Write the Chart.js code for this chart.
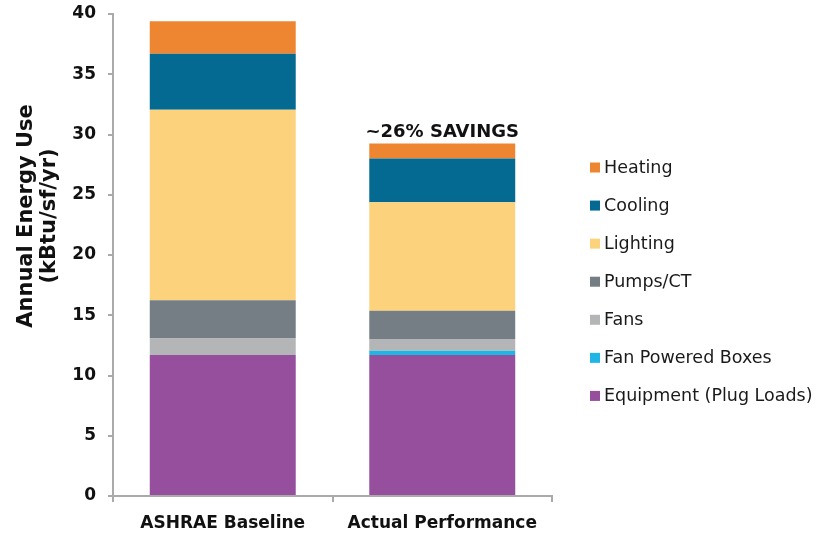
<!DOCTYPE html>
<html><head><meta charset="utf-8">
<script src="https://cdn.jsdelivr.net/npm/chart.js@4.4.1/dist/chart.umd.min.js"></script>
<style>html,body{margin:0;padding:0;background:#fff}#wrap{width:821px;height:533px}</style>
</head><body><div id="wrap"><canvas id="c" width="821" height="533"></canvas></div>
<script>
const categories = ['ASHRAE Baseline', 'Actual Performance'];
const seriesNames = ['Equipment (Plug Loads)', 'Fan Powered Boxes', 'Fans', 'Pumps/CT', 'Lighting', 'Cooling', 'Heating'];
const equipment = [11.7, 11.7];
const fanPoweredBoxes = [0, 0.36];
const fans = [1.37, 0.97];
const pumps = [3.17, 2.35];
const lighting = [15.82, 9.0];
const cooling = [4.65, 3.62];
const heating = [2.68, 1.25];
const yTicks = [0, 5, 10, 15, 20, 25, 30, 35, 40];
const yTitle = ['Annual Energy Use', '(kBtu/sf/yr)'];
const savingsLabel = '~26% SAVINGS';
const seriesColors = ['#954F9D', '#1FB6E6', '#B4B5B6', '#757E84', '#FDD27D', '#046A92', '#EE8631'];

const seriesValues = [equipment, fanPoweredBoxes, fans, pumps, lighting, cooling, heating];
const axisColor = '#aaaaaa';
const FONT = '"DejaVu Sans", sans-serif';

const overlayPlugin = {
  id: 'overlay',
  afterDraw(chart) {
    const ctx = chart.ctx;
    // y-axis title
    ctx.save();
    ctx.fillStyle = '#111';
    ctx.font = 'bold 21px ' + FONT;
    ctx.textAlign = 'center';
    ctx.textBaseline = 'middle';
    const cy = 216;
    [27, 50].forEach((x, i) => {
      ctx.save();
      ctx.translate(x, cy);
      ctx.rotate(-Math.PI / 2);
      ctx.fillText(yTitle[i], 0, 0);
      ctx.restore();
    });
    ctx.restore();

    // savings annotation above top segment of second bar
    const topMeta = chart.getDatasetMeta(chart.data.datasets.length - 1);
    const el = topMeta.data[1];
    ctx.save();
    ctx.fillStyle = '#111';
    ctx.font = 'bold 18px ' + FONT;
    ctx.textAlign = 'center';
    ctx.textBaseline = 'alphabetic';
    ctx.fillText(savingsLabel, el.x, el.y - 7);
    ctx.restore();

    // legend (reverse order, top = last dataset)
    ctx.save();
    ctx.font = '17.5px ' + FONT;
    ctx.textBaseline = 'middle';
    ctx.textAlign = 'left';
    const ds = chart.data.datasets.slice().reverse();
    ds.forEach((d, i) => {
      const yy = 167.5 + i * 38.07;
      ctx.fillStyle = d.backgroundColor;
      ctx.fillRect(590, yy - 5, 10, 10);
      ctx.fillStyle = '#1a1a1a';
      ctx.fillText(d.label, 604, yy + 1);
    });
    ctx.restore();
  }
};

new Chart(document.getElementById('c'), {
  type: 'bar',
  data: {
    labels: categories,
    datasets: seriesNames.map((n, i) => ({
      label: n,
      data: seriesValues[i],
      backgroundColor: seriesColors[i],
      borderWidth: 0,
      barPercentage: 0.665,
      categoryPercentage: 1.0
    }))
  },
  options: {
    responsive: false,
    animation: false,
    devicePixelRatio: 1,
    layout: { padding: { top: 14, right: 269, bottom: 0, left: 0 } },
    plugins: { legend: { display: false }, tooltip: { enabled: false }, title: { display: false } },
    scales: {
      x: {
        stacked: true,
        grid: { display: true, drawOnChartArea: false, drawTicks: true, tickLength: 6, color: axisColor, lineWidth: 2, offset: true },
        border: { display: true, color: axisColor, width: 2 },
        ticks: { color: '#111', font: { family: FONT, size: 17, weight: 'bold', lineHeight: 1.0 }, padding: 13, maxRotation: 0 },
        afterFit: s => { s.height = 37; s.paddingLeft = 0; s.paddingRight = 0; }
      },
      y: {
        stacked: true,
        min: 0, max: 40,
        afterBuildTicks: s => { s.ticks = yTicks.map(v => ({ value: v })); },
        grid: { display: true, drawOnChartArea: false, drawTicks: true, tickLength: 5, color: axisColor, lineWidth: 2 },
        border: { display: true, color: axisColor, width: 2 },
        ticks: { color: '#111', font: { family: FONT, size: 17, weight: 'bold' }, padding: 12 },
        afterFit: s => { s.width = 113; s.paddingTop = 0; s.paddingBottom = 0; }
      }
    }
  },
  plugins: [overlayPlugin]
});
</script>
</body></html>
